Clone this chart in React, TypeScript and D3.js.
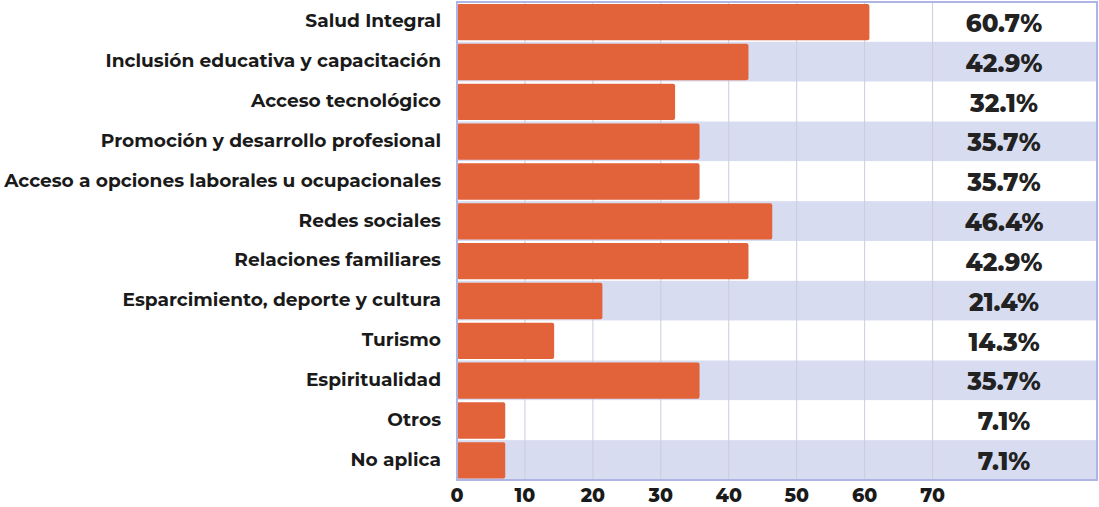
import React from "react";
import * as d3 from "d3";

const categories = [
  "Salud Integral",
  "Inclusión educativa y capacitación",
  "Acceso tecnológico",
  "Promoción y desarrollo profesional",
  "Acceso a opciones laborales u ocupacionales",
  "Redes sociales",
  "Relaciones familiares",
  "Esparcimiento, deporte y cultura",
  "Turismo",
  "Espiritualidad",
  "Otros",
  "No aplica",
];
const values = [60.7, 42.9, 32.1, 35.7, 35.7, 46.4, 42.9, 21.4, 14.3, 35.7, 7.1, 7.1];
const ticks = [0, 10, 20, 30, 40, 50, 60, 70];

const W = 1099;
const H = 507;
const left = 457;
const right = 1097;
const top = 2;
const bottom = 480;
const labelCenter = 1004;
const FONT = "Montserrat, 'DejaVu Sans', sans-serif";

export default function App() {
  const x = d3.scaleLinear().domain([0, 94.2]).range([left, right]);
  const y = d3.scaleBand<string>().domain(categories).range([top, bottom]).paddingInner(0).paddingOuter(0);
  const bw = y.bandwidth();
  const barPad = 2;
  return (
    <svg width={W} height={H} style={{ position: "absolute", left: 0, top: 0, background: "#fff" }} fontFamily={FONT}>
      {categories.map((c, i) => (
        <rect key={"bg" + i} x={left} y={y(c)!} width={right - left} height={bw} fill={i % 2 === 1 ? "#D8DCF0" : "#FFFFFF"} />
      ))}
      {ticks.slice(1).map((t) => (
        <line key={"g" + t} x1={x(t)} x2={x(t)} y1={top} y2={bottom} stroke="#C9CCDD" strokeWidth={1} />
      ))}
      {categories.map((c, i) => (
        <rect
          key={"b" + i}
          x={x(0)}
          y={y(c)! + barPad}
          width={x(values[i]) - x(0)}
          height={bw - barPad * 2 + 0.5}
          rx={2}
          fill="#E2623A"
        />
      ))}
      <rect x={left} y={top} width={right - left} height={bottom - top} fill="none" stroke="#AEB4E4" strokeWidth={2} />
      {categories.map((c, i) => (
        <text
          key={"l" + i}
          x={441}
          y={y(c)! + bw / 2 - 1}
          textAnchor="end"
          dominantBaseline="central"
          fontSize={18.6}
          fontWeight={700}
          fill="#1a1a1a"
        >
          {c}
        </text>
      ))}
      {categories.map((c, i) => (
        <text
          key={"v" + i}
          x={labelCenter}
          y={y(c)! + bw / 2 + 1}
          textAnchor="middle"
          dominantBaseline="central"
          fontSize={24.5}
          fontWeight={800}
          fill="#222"
        >
          {values[i].toFixed(1) + "%"}
        </text>
      ))}
      {ticks.map((t) => (
        <text
          key={"t" + t}
          x={x(t)}
          y={495}
          textAnchor="middle"
          dominantBaseline="central"
          fontSize={19}
          fontWeight={800}
          fill="#1a1a1a"
        >
          {t}
        </text>
      ))}
    </svg>
  );
}
